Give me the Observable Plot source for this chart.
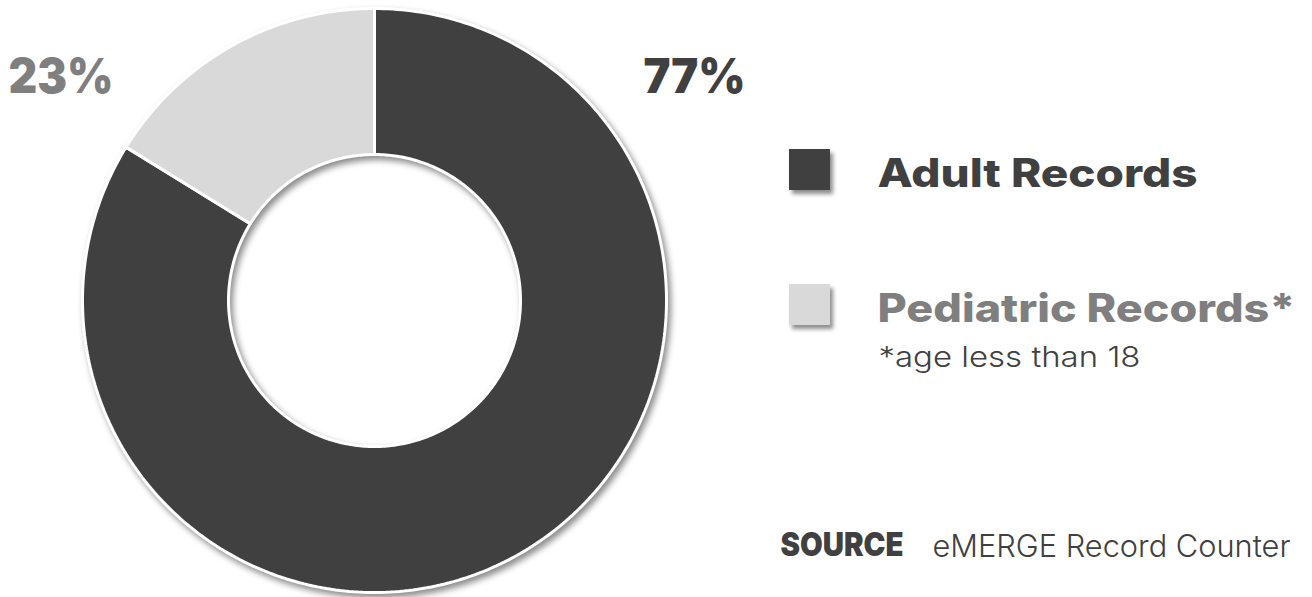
<!DOCTYPE html>
<html>
<head>
<meta charset="utf-8">
<script src="https://cdn.jsdelivr.net/npm/d3@7"></script>
<script src="https://cdn.jsdelivr.net/npm/@observablehq/plot@0.6"></script>
<style>
  html, body { margin: 0; padding: 0; background: #fff; }
  #chart svg { display: block; overflow: visible; }
  #chart svg g[aria-label="line"] { filter: drop-shadow(3px 4px 3px rgba(0,0,0,0.45)); }
  #chart svg g[aria-label="rect"] { filter: drop-shadow(3px 4px 2px rgba(0,0,0,0.45)); }
</style>
</head>
<body>
<div id="chart"></div>
<script>
// ---- data ----
const categories = ["Adult Records", "Pediatric Records*"];
const percentLabels = ["77%", "23%"];
// share of the ring as drawn in the picture (slice angles)
const drawnShares = [83.8, 16.2];
const footnote = "*age less than 18";
const sourceLabel = "SOURCE";
const sourceText = "eMERGE Record Counter";

// ---- layout (pixels) ----
const W = 1312, H = 597;
const CX = 374, CY = 300, R = 292;
const INNER = 0.5;
const toX = px => (px - CX) / R;
const toY = py => (CY - py) / R;

// build ring slices from the shares
const total = d3.sum(drawnShares);
const ring = [];
let start = 0;
categories.forEach((cat, i) => {
  const a0 = start, a1 = start + drawnShares[i] / total * 2 * Math.PI;
  start = a1;
  const n = Math.max(8, Math.ceil((a1 - a0) / (2 * Math.PI) * 400));
  for (let k = 0; k <= n; k++) {
    const a = a0 + (a1 - a0) * k / n;
    ring.push({cat, x: Math.sin(a), y: Math.cos(a)});
  }
  for (let k = n; k >= 0; k--) {
    const a = a0 + (a1 - a0) * k / n;
    ring.push({cat, x: INNER * Math.sin(a), y: INNER * Math.cos(a)});
  }
});

const legend = categories.map((cat, i) => ({
  cat,
  x1: toX(789), x2: toX(830),
  y1: toY(149 + i * 135), y2: toY(190 + i * 135)
}));

const colorRange = ["#404040", "#d9d9d9"];
const textColors = ["#404040", "#7f7f7f"];
const HEAVY = "Inter, 'Open Sans', sans-serif";
const LIGHT = "Inter, Lato, sans-serif";

const plot = Plot.plot({
  width: W, height: H,
  marginLeft: CX - R, marginRight: W - (CX + R),
  marginTop: CY - R, marginBottom: H - (CY + R),
  x: {domain: [-1, 1], axis: null},
  y: {domain: [-1, 1], axis: null},
  color: {domain: categories, range: colorRange},
  style: {background: "#fff", overflow: "visible"},
  marks: [
    Plot.line(ring, {x: "x", y: "y", z: "cat", fill: "cat", stroke: "#fff", strokeWidth: 3, curve: "linear-closed", strokeLinejoin: "miter"}),
    Plot.rect(legend, {x1: "x1", x2: "x2", y1: "y1", y2: "y2", fill: "cat"}),
    // percentage labels
    Plot.text([0], {x: toX(8), y: toY(92), text: () => percentLabels[1], textAnchor: "start", lineAnchor: "bottom",
      fontFamily: HEAVY, fontWeight: 900, fontSize: 48, fill: textColors[1]}),
    Plot.text([0], {x: toX(643), y: toY(92), text: () => percentLabels[0], textAnchor: "start", lineAnchor: "bottom",
      fontFamily: HEAVY, fontWeight: 900, fontSize: 48, fill: textColors[0]}),
    // legend labels
    Plot.text(categories, {x: toX(877), y: (d, i) => toY(186 + i * 135), text: d => d, textAnchor: "start", lineAnchor: "bottom",
      fontFamily: HEAVY, fontWeight: 800, fontSize: 39, fill: (d, i) => textColors[i]}),
    Plot.text([footnote], {x: toX(878), y: toY(366), text: d => d, textAnchor: "start", lineAnchor: "bottom",
      fontFamily: LIGHT, fontWeight: 300, fontSize: 28, fill: "#404040"}),
    Plot.text([sourceLabel], {x: toX(780), y: toY(555), text: d => d, textAnchor: "start", lineAnchor: "bottom",
      fontFamily: HEAVY, fontWeight: 900, fontSize: 33, fill: "#404040"}),
    Plot.text([sourceText], {x: toX(932), y: toY(556), text: d => d, textAnchor: "start", lineAnchor: "bottom",
      fontFamily: LIGHT, fontWeight: 300, fontSize: 31, fill: "#404040"})
  ]
});

// fit text widths to the reference
const widths = {
  "23%": 105, "77%": 102,
  "Adult Records": 320, "Pediatric Records*": 418,
  "*age less than 18": 262,
  "SOURCE": 123, "eMERGE Record Counter": 358
};
d3.select(plot).selectAll("text").each(function () {
  const w = widths[this.textContent];
  if (w) {
    this.setAttribute("textLength", w);
    this.setAttribute("lengthAdjust", "spacingAndGlyphs");
  }
});
document.getElementById("chart").appendChild(plot);
</script>
</body>
</html>
